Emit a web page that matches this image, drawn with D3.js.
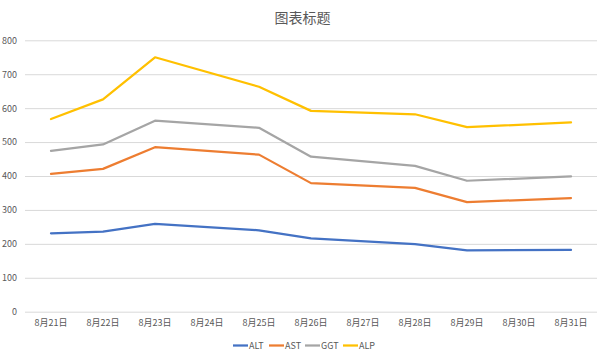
<!DOCTYPE html>
<html><head><meta charset="utf-8">
<script src="https://cdn.jsdelivr.net/npm/d3@7"></script>
<style>body{margin:0;background:#fff}svg{display:block}</style>
</head><body>
<svg id="c" width="605" height="360"></svg>
<script>
const categories = ["8月21日","8月22日","8月23日","8月24日","8月25日","8月26日","8月27日","8月28日","8月29日","8月30日","8月31日"];
const seriesNames = ["ALT","AST","GGT","ALP"];
const colors = ["#4472C4","#ED7D31","#A5A5A5","#FFC000"];
const ALT = [231,236,259,null,240,216,null,199,181,null,182];
const AST = [406,421,485,null,463,379,null,365,323,null,335];
const GGT = [474,493,563,null,542,457,null,430,386,null,399];
const ALP = [568,626,750,null,663,592,null,582,544,null,558];
const yTicks = [0,100,200,300,400,500,600,700,800];
const title = "图表标题";
const seriesValues = [ALT,AST,GGT,ALP];

const svg = d3.select("#c");
const font = "'Noto Sans CJK SC', 'Noto Sans', sans-serif";
const x = d3.scaleBand().domain(categories).range([25,597]);
const y = d3.scaleLinear().domain([0,800]).range([311.7,40.3]);

svg.append("text").attr("x",302.5).attr("y",23).attr("text-anchor","middle")
  .attr("font-family",font).attr("font-size",14).attr("fill","#595959").text(title);

const yAxis = svg.append("g").attr("transform","translate(25,0)")
  .call(d3.axisLeft(y).tickValues(yTicks).tickSize(-572).tickPadding(8));
yAxis.select(".domain").remove();
yAxis.selectAll("line").attr("stroke","#D9D9D9").attr("stroke-width",1);
yAxis.selectAll("text").attr("font-family",font).attr("font-size",9).attr("fill","#595959");

const xAxis = svg.append("g").attr("transform","translate(0,311.7)")
  .call(d3.axisBottom(x).tickSize(0).tickPadding(8));
xAxis.select(".domain").remove();
xAxis.selectAll("text").attr("font-family",font).attr("font-size",9).attr("fill","#595959");

const line = d3.line().x(d=>x(d.c)+x.bandwidth()/2).y(d=>y(d.v));
seriesValues.forEach((vals,i)=>{
  const pts = categories.map((c,j)=>({c,v:vals[j]})).filter(d=>d.v!=null);
  svg.append("path").attr("d",line(pts)).attr("fill","none")
    .attr("stroke",colors[i]).attr("stroke-width",2.25)
    .attr("stroke-linejoin","round").attr("stroke-linecap","round");
});

const legX = [233,269,305,343];
seriesNames.forEach((n,i)=>{
  const g = svg.append("g").attr("transform",`translate(${legX[i]},345.5)`);
  g.append("line").attr("x1",0).attr("x2",15).attr("stroke",colors[i]).attr("stroke-width",2.25);
  g.append("text").attr("x",16).attr("y",3.5).attr("font-family",font).attr("font-size",9)
    .attr("fill","#595959").text(n);
});
</script>
</body></html>
